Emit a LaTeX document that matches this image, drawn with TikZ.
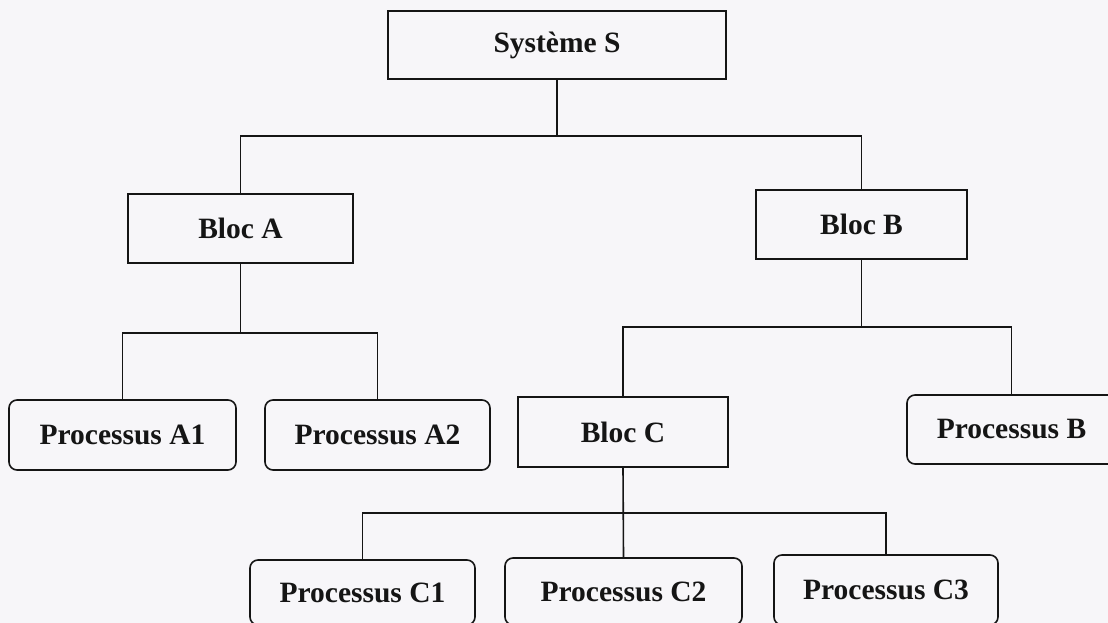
\documentclass[tikz,border=0pt]{standalone}
\usepackage{fontspec}
\setmainfont{Liberation Serif}
\definecolor{ink}{HTML}{151515}
\definecolor{paper}{HTML}{F7F6F9}
\begin{document}
\begin{tikzpicture}[x=1pt,y=-1pt,
  box/.style={draw=ink, line width=1.6pt, inner sep=0pt, text=ink,
    font=\bfseries\fontsize{29.5}{34}\selectfont},
  sqbox/.style={box},
  rndbox/.style={box, rounded corners=8pt},
  link/.style={draw=ink, line width=1.6pt}]
\useasboundingbox (0,0) rectangle (1108,623);
\fill[paper] (0,0) rectangle (1108,623);
\begin{scope}
\clip (0,0) rectangle (1108,623);
\node[sqbox, minimum width=338pt, minimum height=68pt] (sys) at (557,45) {Système S};
\node[sqbox, minimum width=225pt, minimum height=69pt] (blocA) at (240.5,228.5) {Bloc A};
\node[sqbox, minimum width=211pt, minimum height=69pt] (blocB) at (861.5,224.5) {Bloc B};
\node[rndbox, minimum width=227pt, minimum height=70pt] (A1) at (122.5,435) {Processus A1};
\node[rndbox, minimum width=225pt, minimum height=70pt] (A2) at (377.5,435) {Processus A2};
\node[sqbox, minimum width=210pt, minimum height=70pt] (blocC) at (623,432) {Bloc C};
\node[rndbox, minimum width=209pt, minimum height=69pt] (PB) at (1011.5,429.5) {Processus B};
\node[rndbox, minimum width=225pt, minimum height=65pt] (C1) at (362.5,592.5) {Processus C1};
\node[rndbox, minimum width=237pt, minimum height=67pt] (C2) at (623.5,591.5) {Processus C2};
\node[rndbox, minimum width=224pt, minimum height=70pt] (C3) at (886,590) {Processus C3};
\coordinate (j0) at (557,136);
\coordinate (jA) at (240.5,333);
\coordinate (jB) at (861.5,327);
\coordinate (jC) at (623,513);
\draw[link] (sys.south) -- (j0);
\draw[link] (blocA.north) |- (j0) -| (blocB.north);
\draw[link] (blocA.south) -- (jA);
\draw[link] (A1.north) |- (jA) -| (A2.north);
\draw[link] (blocB.south) -- (jB);
\draw[link] (blocC.north) |- (jB) -| (PB.north);
\draw[link] (blocC.south) -- (C2.north);
\draw[link] (C1.north) |- (jC) -| (C3.north);
\end{scope}
\end{tikzpicture}
\end{document}
